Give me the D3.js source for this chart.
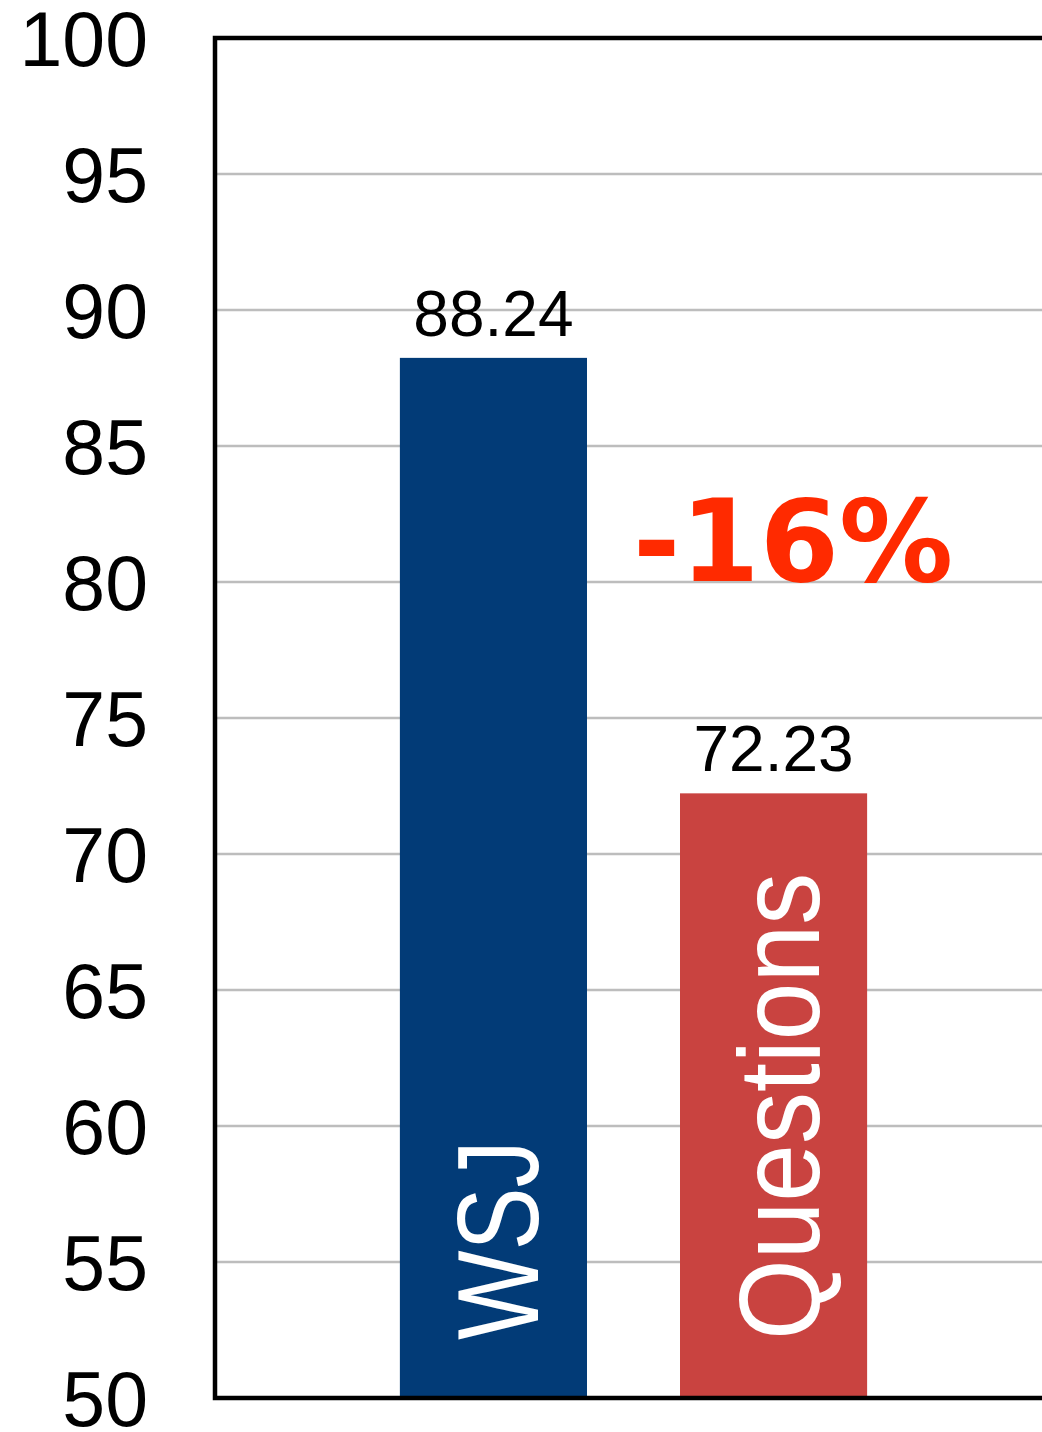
<!DOCTYPE html>
<html>
<head>
<meta charset="utf-8">
<script src="https://cdn.jsdelivr.net/npm/d3@7"></script>
<style>
    html, body { margin: 0; padding: 0; background: #fff; }
    svg { display: block; }
</style>
</head>
<body>
<div id="chart"></div>
<script>
var categories = ["WSJ", "Questions"];
var values = [88.24, 72.23];
var valueLabels = ["88.24", "72.23"];
var yTicks = [50, 55, 60, 65, 70, 75, 80, 85, 90, 95, 100];
var changeLabel = "-16%";

var margin = {
    top: 38,
    right: -10,
    bottom: 34,
    left: 215
}
var W = 1042, H = 1432;
var width = W - margin.left - margin.right;
var height = H - margin.top - margin.bottom;

var svg = d3.select("#chart").append("svg")
    .attr("width", W)
    .attr("height", H)
    .append("g")
    .attr("transform", "translate(" + margin.left + "," + margin.top + ")");

var x = d3.scaleBand()
    .domain(categories)
    .range([0, width])
    .paddingInner(0.332)
    .paddingOuter(0.66);

var y = d3.scaleLinear()
    .domain([50, 100])
    .range([height, 0]);

var colors = ["#023b77", "#c94340"];

// grid lines
svg.selectAll(".grid")
    .data(yTicks.filter(function (d) { return d > 50 && d < 100; }))
    .enter().append("line")
    .attr("x1", 0)
    .attr("x2", width)
    .attr("y1", function (d) { return y(d); })
    .attr("y2", function (d) { return y(d); })
    .attr("stroke", "#bdbdbd")
    .attr("stroke-width", 2.5);

// y axis labels
var yAxis = svg.append("g")
    .call(d3.axisLeft(y).tickValues(yTicks).tickSize(0).tickPadding(67));
yAxis.select(".domain").remove();
yAxis.selectAll("text")
    .attr("font-family", "'Liberation Sans', Arial, Helvetica, sans-serif")
    .attr("font-size", "77px")
    .attr("fill", "#000")
    .attr("dy", "0.36em");

// bars
svg.selectAll(".bar")
    .data(categories)
    .enter().append("rect")
    .attr("x", function (d) { return x(d); })
    .attr("width", x.bandwidth())
    .attr("y", function (d, i) { return y(values[i]); })
    .attr("height", function (d, i) { return height - y(values[i]); })
    .attr("fill", function (d, i) { return colors[i]; });

// value labels
svg.selectAll(".val")
    .data(categories)
    .enter().append("text")
    .attr("x", function (d) { return x(d) + x.bandwidth() / 2; })
    .attr("y", function (d, i) { return y(values[i]) - 22; })
    .attr("text-anchor", "middle")
    .attr("font-family", "'Liberation Sans', Arial, Helvetica, sans-serif")
    .attr("font-size", "64px")
    .attr("fill", "#000")
    .text(function (d, i) { return valueLabels[i]; });

// category labels inside bars, rotated
var catLen = { "WSJ": 200, "Questions": 467 };
svg.selectAll(".cat")
    .data(categories)
    .enter().append("text")
    .attr("transform", function (d) {
        return "translate(" + (x(d) + x.bandwidth() / 2 + 45) + "," + (height - 58) + ") rotate(-90)";
    })
    .attr("text-anchor", "start")
    .attr("font-family", "'Liberation Sans', Arial, Helvetica, sans-serif")
    .attr("font-size", "115px")
    .attr("fill", "#fff")
    .attr("textLength", function (d) { return catLen[d]; })
    .attr("lengthAdjust", "spacingAndGlyphs")
    .text(function (d) { return d; });

// change annotation
svg.append("text")
    .attr("x", x("WSJ") + x.bandwidth() + 46)
    .attr("y", y(80) - 1)
    .attr("font-family", "'DejaVu Sans', Verdana, sans-serif")
    .attr("font-weight", "bold")
    .attr("font-size", "114px")
    .attr("fill", "#ff2a00")
    .text(changeLabel);

// frame
svg.append("rect")
    .attr("x", 0)
    .attr("y", 0)
    .attr("width", width)
    .attr("height", height)
    .attr("fill", "none")
    .attr("stroke", "#000")
    .attr("stroke-width", 4.5);
</script>
</body>
</html>
